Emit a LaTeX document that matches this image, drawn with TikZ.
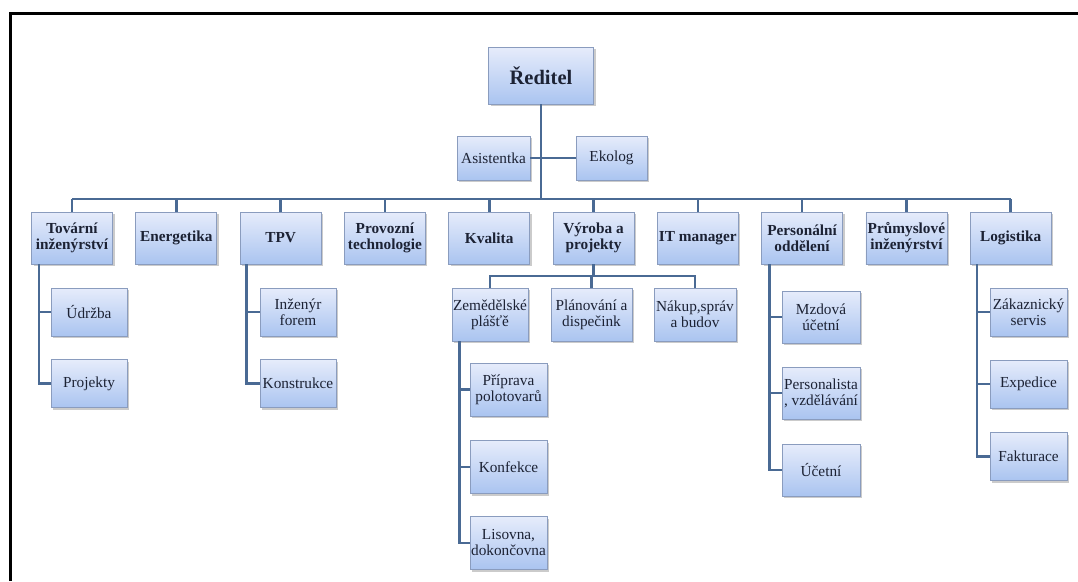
\documentclass[tikz,border=0pt]{standalone}
\usepackage{fontspec}
\setmainfont{Liberation Serif}
\usetikzlibrary{shadows}
\definecolor{boxtop}{RGB}{230,236,251}
\definecolor{boxbot}{RGB}{170,196,240}
\definecolor{boxline}{RGB}{138,156,190}
\definecolor{conncol}{RGB}{74,106,148}
\definecolor{txtcol}{RGB}{28,34,52}
\tikzset{
  orgbox/.style={rectangle, draw=boxline, line width=0.8pt, top color=boxtop, bottom color=boxbot,
    drop shadow={shadow xshift=2pt, shadow yshift=-2pt, fill=black!45, opacity=0.45},
    inner sep=0pt, align=center, text=txtcol,
    font=\fontsize{15.3}{16}\selectfont},
  lvone/.style={orgbox, minimum width=81pt, minimum height=52pt, font=\fontsize{15.3}{16}\selectfont\bfseries},
  lvtwo/.style={orgbox, minimum width=77pt, minimum height=49pt},
  conn/.style={draw=conncol, line width=2.6pt},
}
\begin{document}
\begin{tikzpicture}[x=1pt,y=-1pt]
\useasboundingbox (0,0) rectangle (1078,581);
% frame
\draw[line width=2.2pt, black] (10.5,581) -- (10.5,13.5) -- (1078,13.5);

% top
\node[orgbox, minimum width=105pt, minimum height=57pt, font=\fontsize{20.5}{22}\selectfont\bfseries] (ceo) at (541,75.5) {Ředitel};
\node[orgbox, minimum width=73pt, minimum height=44pt] (asis) at (493.5,158) {Asistentka};
\node[orgbox, minimum width=71pt, minimum height=44pt] (eko) at (611.5,158) {Ekolog};

% level 1
\node[lvone] (t1) at (72,238) {Tovární\\inženýrství};
\node[lvone] (t2) at (176.3,238) {Energetika};
\node[lvone] (t3) at (280.6,238) {TPV};
\node[lvone] (t4) at (384.9,238) {Provozní\\technologie};
\node[lvone] (t5) at (489.2,238) {Kvalita};
\node[lvone] (t6) at (593.5,238) {Výroba a\\projekty};
\node[lvone] (t7) at (697.8,238) {IT manager};
\node[lvone] (t8) at (802.1,238) {Personální\\oddělení};
\node[lvone] (t9) at (906.4,238) {Průmyslové\\inženýrství};
\node[lvone] (t10) at (1010.7,238) {Logistika};

% level 2
\node[lvtwo, minimum width=76pt, minimum height=48pt] (udr) at (89,312) {Údržba};
\node[lvtwo, minimum width=76pt, minimum height=48pt] (prj) at (89,383.5) {Projekty};
\node[lvtwo, minimum width=76pt, minimum height=48pt] (inz) at (298,312) {Inženýr\\forem};
\node[lvtwo, minimum width=76pt, minimum height=48pt] (kon) at (298,383.5) {Konstrukce};

\node[lvtwo, minimum width=76pt, minimum height=53pt] (zem) at (490,314.5) {Zemědělské\\plášťě};
\node[lvtwo, minimum width=81pt, minimum height=53pt] (pla) at (591.5,314.5) {Plánování a\\dispečink};
\node[lvtwo, minimum width=82pt, minimum height=53pt] (nak) at (695,314.5) {Nákup,správ\\a budov};

\node[lvtwo, minimum height=53pt] (pri) at (508.5,389.5) {Příprava\\polotovarů};
\node[lvtwo, minimum height=53pt] (knf) at (508.5,467) {Konfekce};
\node[lvtwo, minimum height=53pt] (lis) at (508.5,543) {Lisovna,\\dokončovna};

\node[lvtwo, minimum width=78pt, minimum height=52pt] (mzd) at (821,317) {Mzdová\\účetní};
\node[lvtwo, minimum width=78pt, minimum height=52pt] (per) at (821,393) {Personalista\\, vzdělávání};
\node[lvtwo, minimum width=78pt, minimum height=52pt] (uce) at (821,470) {Účetní};

\node[lvtwo, minimum height=48pt] (zak) at (1028.5,312) {Zákaznický\\servis};
\node[lvtwo, minimum height=48pt] (exp) at (1028.5,384) {Expedice};
\node[lvtwo, minimum height=48pt] (fak) at (1028.5,456.5) {Fakturace};

% connectors
\coordinate (busL) at (72,199);
\coordinate (busR) at (1010.7,199);
\draw[conn] (ceo.south) -- (ceo.south |- busL);
\draw[conn] (asis.east) -- (eko.west);
\draw[conn] (busL) -- (busR);
\foreach \n in {t1,t2,t3,t4,t5,t6,t7,t8,t9,t10}
  \draw[conn] (\n.north) -- (\n.north |- busL);

\draw[conn] ([xshift=8pt]t1.south west) |- (udr.west);
\draw[conn] ([xshift=8pt]t1.south west) |- (prj.west);
\draw[conn] ([xshift=7pt]t3.south west) |- (inz.west);
\draw[conn] ([xshift=7pt]t3.south west) |- (kon.west);

\coordinate (sb) at (593.5,276);
\draw[conn] (t6.south) -- (sb);
\draw[conn] (zem.north) -- (zem.north |- sb) -- (nak.north |- sb) -- (nak.north);
\draw[conn] (pla.north) -- (pla.north |- sb);

\draw[conn] ([xshift=8pt]zem.south west) |- (pri.west);
\draw[conn] ([xshift=8pt]zem.south west) |- (knf.west);
\draw[conn] ([xshift=8pt]zem.south west) |- (lis.west);

\draw[conn] ([xshift=8.5pt]t8.south west) |- (mzd.west);
\draw[conn] ([xshift=8.5pt]t8.south west) |- (per.west);
\draw[conn] ([xshift=8.5pt]t8.south west) |- (uce.west);

\draw[conn] ([xshift=7pt]t10.south west) |- (zak.west);
\draw[conn] ([xshift=7pt]t10.south west) |- (exp.west);
\draw[conn] ([xshift=7pt]t10.south west) |- (fak.west);
\end{tikzpicture}
\end{document}
